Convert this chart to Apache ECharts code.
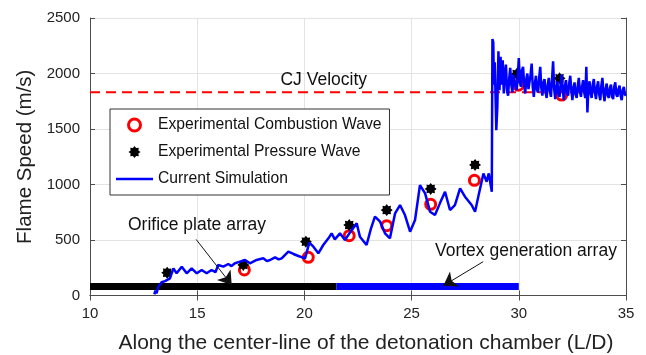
<!DOCTYPE html>
<html><head><meta charset="utf-8">
<script src="https://cdn.jsdelivr.net/npm/echarts@6/dist/echarts.min.js"></script>
<style>html,body{margin:0;padding:0;background:#fff}#c{width:646px;height:355px}</style>
</head><body><div id="c"></div>
<script>
const xTicks = [10, 15, 20, 25, 30, 35];
const yTicks = [0, 500, 1000, 1500, 2000, 2500];
const cjVelocity = 1830;
const combustionWave = [[17.2,230],[20.18,344],[22.09,539],[23.84,629],[25.89,821],[27.93,1038],[29.98,1895],[32.0,1806]];
const pressureWave = [[13.6,205],[17.15,275],[20.07,485],[22.09,635],[23.84,770],[25.89,960],[27.96,1176],[29.9,1995],[31.9,1957]];
const orificeArray = [[10,80],[21.5,80]];
const vortexArray = [[21.5,80],[30,80]];
const simulation = [
[13.0,10],[13.05,45],[13.1,20],[13.19,79],[13.34,119],[13.5,130],[13.73,155],[13.89,245],[14.04,200],[14.28,260],
[14.51,200],[14.74,245],[14.98,200],[15.21,230],[15.44,200],[15.67,230],[15.85,210],[15.98,275],[16.22,260],[16.45,284],
[16.6,265],[16.76,290],[17.0,305],[17.23,320],[17.46,290],[17.77,320],[18.08,335],[18.25,310],[18.4,320],[18.63,344],
[18.8,325],[18.94,335],[19.25,395],[19.49,374],[19.72,356],[20.03,335],[20.23,476],[20.42,440],[20.65,380],[20.88,455],
[21.12,515],[21.27,560],[21.42,506],[21.66,560],[21.89,500],[22.1,560],[22.44,650],[22.59,530],[22.9,455],[23.1,600],
[23.29,710],[23.53,665],[23.76,560],[23.99,515],[24.23,740],[24.46,815],[24.69,725],[24.93,575],[25.16,680],[25.39,995],
[25.63,920],[25.86,755],[26.09,725],[26.32,830],[26.56,935],[26.79,770],[27.02,815],[27.26,965],[27.49,890],[27.8,815],
[27.96,755],[28.11,890],[28.35,1100],[28.5,1025],[28.6,1100],[28.74,935],[28.77,2310],[28.81,2280],[28.84,1900],[28.88,2100],
[28.95,1490],[29.0,1700],[29.05,2200],[29.1,1850],[29.15,2150],[29.2,1900],[29.25,2120],
[29.30,1820],[29.35,2000],[29.40,2080],[29.45,1850],[29.50,1800],[29.55,1950],[29.60,2050],[29.65,1900],[29.70,1830],[29.75,1990],
[29.80,2000],[29.85,1880],[29.90,1850],[29.95,1960],[30.00,2140],[30.05,1920],[30.10,1880],[30.15,2030],[30.20,2060],[30.25,1900],
[30.30,1820],[30.35,1950],[30.40,2000],[30.45,1860],[30.50,1850],[30.55,1990],[30.60,2090],[30.65,1880],[30.70,1790],[30.75,1910],
[30.80,1980],[30.85,1850],[30.90,1830],[30.95,1960],[31.00,2060],[31.05,1870],[31.10,1800],[31.15,1920],[31.20,1950],[31.25,1830],
[31.30,1780],[31.35,1900],[31.40,1960],[31.45,1840],[31.50,1790],[31.55,1950],[31.60,2110],[31.65,1860],[31.70,1770],[31.75,1880],
[31.80,1930],[31.85,1820],[31.90,1790],[31.95,1900],[32.00,1990],[32.05,1850],[32.10,1760],[32.15,1890],[32.20,1940],[32.25,1830],
[32.30,1800],[32.35,1910],[32.40,1980],[32.45,1850],[32.50,1760],[32.55,1870],[32.60,1920],[32.65,1810],[32.70,1780],[32.75,1890],
[32.80,1960],[32.85,1840],[32.90,1790],[32.95,1880],[33.00,1940],[33.05,1830],[33.10,1780],[33.15,2060],[33.20,1650],[33.25,1880],
[33.30,1930],[33.35,1820],[33.40,1780],[33.45,1900],[33.50,1950],[33.55,1830],[33.60,1770],[33.65,1880],[33.70,1930],[33.75,1810],
[33.80,1760],[33.85,1890],[33.90,1960],[33.95,1820],[34.00,1750],[34.05,1860],[34.10,1910],[34.15,1800],[34.20,1780],[34.25,1870],
[34.30,1900],[34.35,1790],[34.40,1770],[34.45,1880],[34.50,1920],[34.55,1810],[34.60,1790],[34.65,1860],[34.70,1890],[34.75,1800],
[34.80,1760],[34.85,1850],[34.90,1880],[34.95,1810],[35.00,1800]
];
const labels = {
  cj: {text:'CJ Velocity', at:[22.92,1941]},
  orifice: {text:'Orifice plate array', at:[11.77,635]},
  vortex: {text:'Vortex generation array', at:[26.09,400]}
};
const orificeArrow = [[14.95,505],[16.61,95]];
const vortexArrow = [[28.34,305],[26.48,88]];

const FONT = 'Liberation Sans, Arial, sans-serif';
const starPath = 'path://M10 0 L6.47 2.68 L7.07 7.07 L2.68 6.47 L0 10 L-2.68 6.47 L-7.07 7.07 L-6.47 2.68 L-10 0 L-6.47 -2.68 L-7.07 -7.07 L-2.68 -6.47 L0 -10 L2.68 -6.47 L7.07 -7.07 L6.47 -2.68 Z';
const lineIcon = 'path://M0 0 L37 0 L37 2.3 L0 2.3 Z';
const axisCol = '#4d4d4d';
const chart = echarts.init(document.getElementById('c'));
const baseX = {type:'value', min:xTicks[0], max:xTicks[xTicks.length-1], interval:5,
  axisLine:{show:true, lineStyle:{color:axisCol, width:1}}, axisTick:{show:true, inside:true, length:5, lineStyle:{color:axisCol}}};
const baseY = {type:'value', min:yTicks[0], max:yTicks[yTicks.length-1], interval:500,
  axisLine:{show:true, lineStyle:{color:axisCol, width:1}}, axisTick:{show:true, inside:true, length:5, lineStyle:{color:axisCol}}};
chart.setOption({
  animation:false,
  grid:{left:90, right:20, top:18, bottom:59.5, containLabel:false, outerBoundsMode:'none'},
  xAxis:[
    Object.assign({}, baseX, {position:'bottom',
      axisLabel:{color:'#222', fontSize:15, fontFamily:FONT, margin:11},
      splitLine:{show:true, lineStyle:{color:'#e3e3e3'}},
      name:'Along the center-line of the detonation chamber (L/D)', nameLocation:'middle', nameGap:37,
      nameTextStyle:{color:'#222', fontSize:21, fontFamily:FONT, padding:[0,0,0,16]}}),
    Object.assign({}, baseX, {position:'top', axisLabel:{show:false}, splitLine:{show:false}})
  ],
  yAxis:[
    Object.assign({}, baseY, {position:'left',
      axisLabel:{color:'#222', fontSize:15, fontFamily:FONT, margin:10, formatter:function(v){return String(v);}},
      splitLine:{show:true, lineStyle:{color:'#e3e3e3'}},
      name:'Flame Speed (m/s)', nameLocation:'middle', nameGap:52,
      nameTextStyle:{color:'#222', fontSize:20.5, fontFamily:FONT}}),
    Object.assign({}, baseY, {position:'right', axisLabel:{show:false}, splitLine:{show:false}})
  ],
  legend:{orient:'vertical', left:110, top:109, itemWidth:37, itemHeight:12, itemGap:11,
    padding:[8,8,8,6], borderColor:'#333', borderWidth:1, backgroundColor:'#fff',
    textStyle:{color:'#111', fontSize:15.7, fontFamily:FONT, padding:[0,0,0,0]},
    data:[
      {name:'Experimental Combustion Wave', icon:'circle', itemStyle:{color:'#fff', borderColor:'#ff0000', borderWidth:3}},
      {name:'Experimental Pressure Wave', icon:starPath, itemStyle:{color:'#000', borderWidth:0}},
      {name:'Current Simulation', icon:lineIcon, itemStyle:{color:'#0000ff', borderWidth:0}}
    ]},
  series:[
    {name:'CJ', type:'line', data:[[xTicks[0],cjVelocity],[xTicks[xTicks.length-1],cjVelocity]], symbol:'none', silent:true,
      lineStyle:{color:'#ff0000', width:2, type:[10,6]}},
    {name:'Orifice', type:'line', data:orificeArray, symbol:'none', silent:true, lineStyle:{color:'#000', width:7, cap:'butt'},
      markLine:{silent:true, symbol:['none','arrow'], symbolSize:13, label:{show:false},
        lineStyle:{color:'#111', width:1, type:'solid'},
        data:[[{coord:orificeArrow[0]},{coord:orificeArrow[1]}]]}},
    {name:'Vortex', type:'line', data:vortexArray, symbol:'none', silent:true, lineStyle:{color:'#0000ff', width:7, cap:'butt'},
      markLine:{silent:true, symbol:['none','arrow'], symbolSize:13, label:{show:false},
        lineStyle:{color:'#111', width:1, type:'solid'},
        data:[[{coord:vortexArrow[0]},{coord:vortexArrow[1]}]]}},
    {name:'Experimental Combustion Wave', type:'scatter', data:combustionWave, symbol:'circle', symbolSize:10,
      itemStyle:{color:'#fff', borderColor:'#ff0000', borderWidth:3, opacity:1}},
    {name:'Experimental Pressure Wave', type:'scatter', data:pressureWave, symbol:starPath, symbolSize:12,
      itemStyle:{color:'#000', opacity:1}},
    {name:'Current Simulation', type:'line', data:simulation, symbol:'none', color:'#0000ff',
      lineStyle:{color:'#0000ff', width:2.5}}
  ]
});
function place(key, align){
  const p = chart.convertToPixel({xAxisIndex:0, yAxisIndex:0}, labels[key].at);
  return {type:'text', x:p[0], y:p[1], z:100, style:{text:labels[key].text, fill:'#111', fontSize:17.5, fontFamily:FONT, align:align, verticalAlign:'middle'}};
}
chart.setOption({graphic:[place('cj','right'), place('orifice','left'), place('vortex','left')]});
</script></body></html>
